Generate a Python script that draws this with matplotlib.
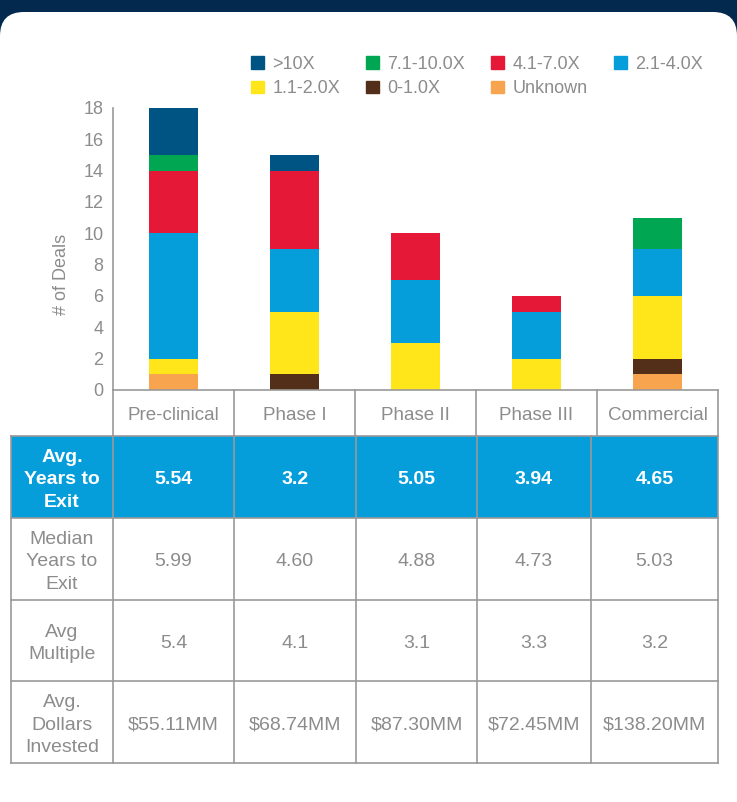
import matplotlib
matplotlib.use("Agg")
import matplotlib.pyplot as plt
from matplotlib.patches import Rectangle, FancyBboxPatch, Patch

plt.rcParams['font.family'] = ['Liberation Sans', 'DejaVu Sans']

# data
stages = ['Pre-clinical', 'Phase I', 'Phase II', 'Phase III', 'Commercial']
series = ['Unknown', '0-1.0X', '1.1-2.0X', '2.1-4.0X', '4.1-7.0X', '7.1-10.0X', '>10X']
unknown = [1, 0, 0, 0, 1]
x0_1 = [0, 1, 0, 0, 1]
x1_2 = [1, 4, 3, 2, 4]
x2_4 = [8, 4, 4, 3, 3]
x4_7 = [4, 5, 3, 1, 0]
x7_10 = [1, 0, 0, 0, 2]
x10 = [3, 1, 0, 0, 0]
colors = ['#f8a44f', '#532e18', '#ffe61a', '#069ddb', '#e51937', '#00a651', '#005483']

row_labels = ['Avg.\nYears to\nExit', 'Median\nYears to\nExit', 'Avg\nMultiple',
              'Avg.\nDollars\nInvested']
avg_years = ['5.54', '3.2', '5.05', '3.94', '4.65']
median_years = ['5.99', '4.60', '4.88', '4.73', '5.03']
avg_multiple = ['5.4', '4.1', '3.1', '3.3', '3.2']
avg_dollars = ['$55.11MM', '$68.74MM', '$87.30MM', '$72.45MM', '$138.20MM']

W, H = 737, 802
gray = '#8c8c8c'
line = '#999999'
blue = '#069ddb'
navy = '#03294f'

fig = plt.figure(figsize=(W / 100, H / 100), dpi=100)

# background (pixel coords)
bg = fig.add_axes([0, 0, 1, 1], zorder=0)
bg.set_xlim(0, W)
bg.set_ylim(H, 0)
bg.axis('off')
bg.add_patch(Rectangle((0, 0), W, 60, color=navy, lw=0))
bg.add_patch(FancyBboxPatch((0, 12), W, 900, boxstyle='round,pad=0,rounding_size=24',
                            fc='white', ec='none'))

# chart
ax = fig.add_axes([113 / W, (H - 390) / H, (718 - 113) / W, (390 - 108) / H], zorder=2)
ax.set_facecolor('none')
data = [unknown, x0_1, x1_2, x2_4, x4_7, x7_10, x10]
bottom = [0] * len(stages)
handles = {}
for name, vals, c in zip(series, data, colors):
    ax.bar(range(len(stages)), vals, 0.405, bottom=bottom, color=c, lw=0)
    bottom = [b + v for b, v in zip(bottom, vals)]
    handles[name] = Patch(color=c, label=name)

ax.set_xlim(-0.5, len(stages) - 0.5)
ax.set_ylim(0, 18)
ax.set_yticks(range(0, 19, 2))
ax.set_xticks(range(len(stages)), labels=stages)
ax.tick_params(axis='y', length=0, pad=7, labelsize=13, labelcolor=gray)
ax.tick_params(axis='x', length=0, pad=12, labelsize=13.5, labelcolor=gray)
ax.set_ylabel('# of Deals', fontsize=13, color=gray)
ax.yaxis.set_label_coords(-0.071, 0.41)
for s in ['top', 'right']:
    ax.spines[s].set_visible(False)
for s in ['left', 'bottom']:
    ax.spines[s].set_color(line)
    ax.spines[s].set_linewidth(1.2)

# category label row boxes
xt = ax.get_xaxis_transform()
for i in range(len(stages) + 1):
    ax.plot([i - 0.5, i - 0.5], [0, -46 / 282], transform=xt, color=line, lw=1.2,
            clip_on=False)

# legend
order = ['>10X', '1.1-2.0X', '7.1-10.0X', '0-1.0X', '4.1-7.0X', 'Unknown', '2.1-4.0X']
fig.legend([handles[k] for k in order], order, ncol=4, frameon=False,
           loc='upper left', bbox_to_anchor=(242 / W, (H - 47) / H),
           fontsize=13, handlelength=0.72, handleheight=0.72, handletextpad=0.45,
           columnspacing=1.45, borderpad=0, labelspacing=0.4, labelcolor=gray)

# table
col_x = [11, 113, 234, 356, 477, 591, 718]
row_y = [436, 518, 600, 681, 763]
bg.add_patch(Rectangle((col_x[0], row_y[0]), col_x[-1] - col_x[0], row_y[1] - row_y[0],
                       color=blue, lw=0))
for y in row_y:
    bg.plot([col_x[0], col_x[-1]], [y, y], color=line, lw=1.2)
for x in col_x:
    bg.plot([x, x], [row_y[0], row_y[-1]], color=line, lw=1.2)

rows = [avg_years, median_years, avg_multiple, avg_dollars]
for r, (lab, vals) in enumerate(zip(row_labels, rows)):
    yc = (row_y[r] + row_y[r + 1]) / 2 + 3
    tc = 'white' if r == 0 else gray
    fw = 'bold' if r == 0 else 'normal'
    bg.text((col_x[0] + col_x[1]) / 2, yc, lab, ha='center', va='center', fontsize=14,
            color=tc, fontweight=fw, linespacing=1.4)
    for c, v in enumerate(vals):
        bg.text((col_x[c + 1] + col_x[c + 2]) / 2, yc, v, ha='center', va='center',
                fontsize=14, color=tc, fontweight=fw)

fig.savefig('out.png', dpi=100)
